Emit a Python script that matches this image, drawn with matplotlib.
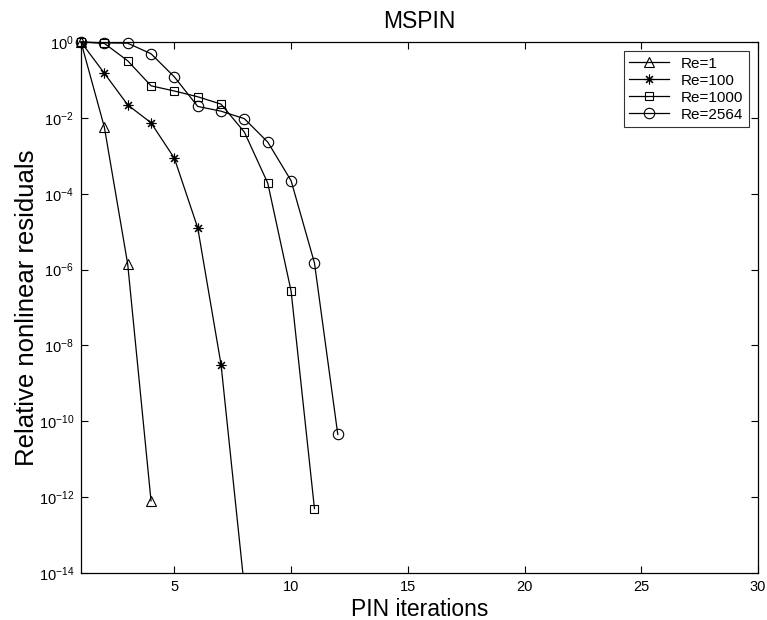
import matplotlib.pyplot as plt

plt.rcParams['font.family'] = ['Liberation Sans', 'DejaVu Sans']

labels = ['Re=1', 'Re=100', 'Re=1000', 'Re=2564']

it_re1 = [1, 2, 3, 4]
res_re1 = [1.0, 5.7e-3, 1.4e-6, 8.0e-13]

it_re100 = [1, 2, 3, 4, 5, 6, 7, 8]
res_re100 = [1.0, 0.15, 0.022, 7.4e-3, 8.6e-4, 1.26e-5, 3.1e-9, 4.0e-15]

it_re1000 = [1, 2, 3, 4, 5, 6, 7, 8, 9, 10, 11]
res_re1000 = [1.0, 0.92, 0.32, 0.07, 0.051, 0.036, 0.023, 4.2e-3, 1.9e-4, 2.7e-7, 5.0e-13]

it_re2564 = [1, 2, 3, 4, 5, 6, 7, 8, 9, 10, 11, 12]
res_re2564 = [1.0, 0.95, 0.93, 0.49, 0.12, 0.02, 0.015, 9.5e-3, 2.3e-3, 2.2e-4, 1.5e-6, 4.5e-11]

fig = plt.figure(figsize=(7.67, 6.2), dpi=100)
ax = fig.add_axes([81 / 767, 1 - 573 / 620, 677 / 767, 531 / 620])

style = dict(color='black', linewidth=0.9, markerfacecolor='none', markeredgewidth=0.8)
ax.plot(it_re1, res_re1, marker='^', markersize=7, label=labels[0], clip_on=False, **style)
# last point of Re=100 lies below the axis, keep it clipped
ax.plot(it_re100, res_re100, marker=(8, 2, 0), markersize=7, label=labels[1], **style)
ax.plot(it_re1000, res_re1000, marker='s', markersize=5.5, label=labels[2], clip_on=False, **style)
ax.plot(it_re2564, res_re2564, marker='o', markersize=7.5, label=labels[3], clip_on=False, **style)

ax.set_yscale('log')
ax.set_xlim(1, 30)
ax.set_ylim(1e-14, 1)
ax.set_xticks([5, 10, 15, 20, 25, 30])
ax.set_yticks([10.0 ** k for k in range(0, -15, -2)])
ax.minorticks_off()
ax.tick_params(direction='in', top=True, right=True, length=5, labelsize=10.5, width=0.8, pad=5)
for s in ax.spines.values():
    s.set_linewidth(0.9)

ax.set_title('MSPIN', fontsize=16.5, pad=10)
ax.set_xlabel('PIN iterations', fontsize=16.5, labelpad=3)
ax.set_ylabel('Relative nonlinear residuals', fontsize=18.5, labelpad=0)

leg = ax.legend(loc='upper right', fontsize=11, fancybox=False, edgecolor='black',
                handlelength=2.6, borderaxespad=0.6, labelspacing=0.2, borderpad=0.35)
leg.get_frame().set_linewidth(0.8)

fig.savefig('out.png', dpi=100)
